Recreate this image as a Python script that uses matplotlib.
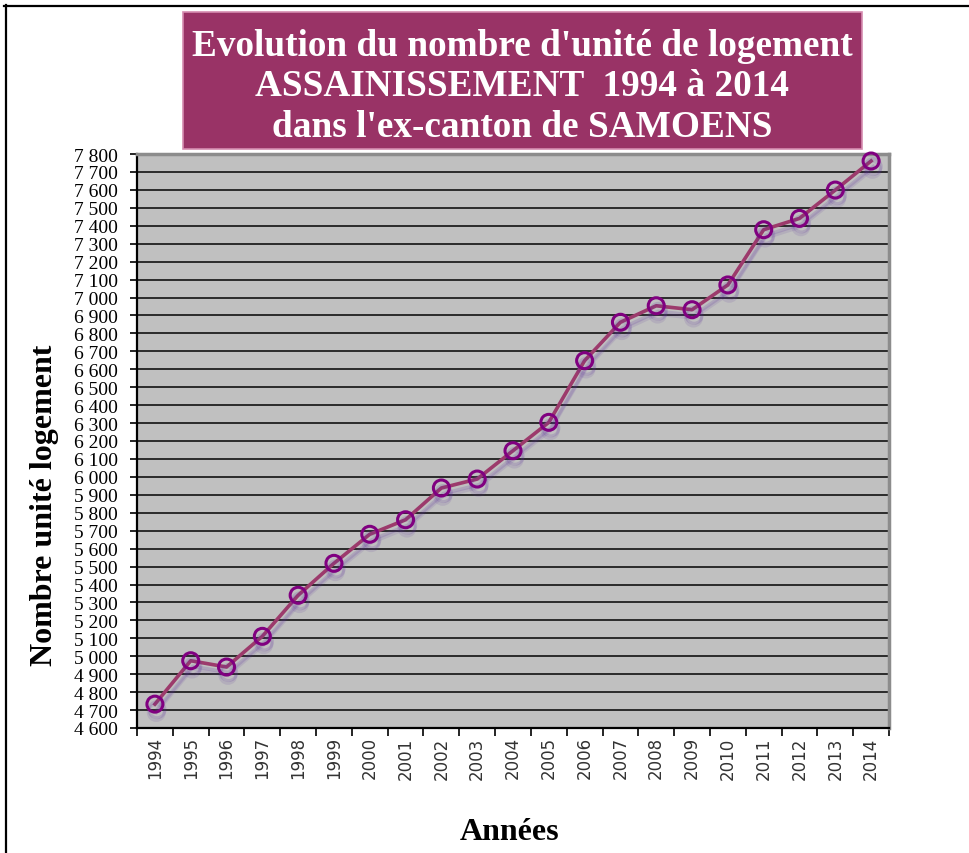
import matplotlib
matplotlib.use("Agg")
import matplotlib.pyplot as plt
from matplotlib.patches import Rectangle
from matplotlib.lines import Line2D
import matplotlib.patheffects as pe
from matplotlib.ticker import FuncFormatter, MultipleLocator, FixedLocator

years = [str(y) for y in range(1994, 2015)]
logements = [4733, 4975, 4940, 5111, 5340, 5518, 5680, 5761, 5938, 5988,
             6146, 6304, 6648, 6862, 6954, 6932, 7070, 7378, 7441, 7599, 7761]
title_lines = ["Evolution du nombre d'unité de logement",
               "ASSAINISSEMENT  1994 à 2014",
               "dans l'ex-canton de SAMOENS"]
ylabel = "Nombre unité logement"
xlabel = "Années"

W, H = 969, 854
fig = plt.figure(figsize=(W / 100, H / 100), dpi=100)
fig.patch.set_facecolor("white")

def fx(px):
    return px / W

def fy(py):
    return 1 - py / H

# outer frame lines (top and left)
fig.add_artist(Line2D([fx(4), fx(969)], [fy(7), fy(7)], color="black", lw=1.6))
fig.add_artist(Line2D([fx(6), fx(6)], [fy(6), fy(854)], color="black", lw=1.6))

# title box
fig.add_artist(Rectangle((fx(183), fy(150)), fx(862) - fx(183), fy(13) - fy(150),
                         facecolor="#993366", edgecolor="#d58cb0", lw=1.2))
fig.text(fx(522), fy(87), "\n".join(title_lines), ha="center", va="center",
         color="white", fontsize=26.8, fontweight="bold",
         family="Liberation Serif", linespacing=1.2)

ax = fig.add_axes([fx(137), fy(729), fx(889) - fx(137), fy(155) - fy(729)])
ax.set_facecolor("#c0c0c0")

x = list(range(len(years)))
ax.set_xlim(-0.5, len(years) - 0.5)
ax.set_ylim(4600, 7800)

ax.yaxis.set_major_locator(MultipleLocator(100))
ax.yaxis.set_major_formatter(FuncFormatter(lambda v, p: f"{int(v):,}".replace(",", " ")))
ax.grid(axis="y", color="#111111", lw=1.2)
ax.set_axisbelow(True)

ax.set_xticks(x)
ax.set_xticklabels(years, rotation=90, fontsize=12, color="#333333",
                   family="DejaVu Sans")
ax.xaxis.set_minor_locator(FixedLocator([i - 0.5 for i in range(len(years) + 1)]))
ax.tick_params(axis="x", which="major", length=0, pad=6)
ax.tick_params(axis="x", which="minor", length=6, width=1.2, direction="out", color="black")
ax.tick_params(axis="y", length=5, width=1.2, direction="out", pad=9, labelsize=14)
for lab in ax.get_yticklabels():
    lab.set_family("Liberation Serif")

for s in ["left", "bottom"]:
    ax.spines[s].set_color("black")
    ax.spines[s].set_linewidth(1.6)
for s in ["top", "right"]:
    ax.spines[s].set_color("#8c8c8c")
    ax.spines[s].set_linewidth(2.5)

shadow = [pe.SimpleLineShadow(offset=(1.5, -4), shadow_color="#5b2d9c", alpha=0.18, rho=1),
          pe.SimpleLineShadow(offset=(1, -6), shadow_color="#5b2d9c", alpha=0.12, rho=1),
          pe.Normal()]
ax.plot(x, logements, color="#9c3a6c", lw=2.6, marker="o", markersize=11.5,
        markerfacecolor="none", markeredgecolor="#800080", markeredgewidth=2.2,
        path_effects=shadow, zorder=3, clip_on=False)

fig.text(fx(45), fy(505), ylabel, rotation=90, ha="center", va="center",
         fontsize=23, fontweight="bold", family="Liberation Serif")
fig.text(fx(510), fy(833), xlabel, ha="center", va="center",
         fontsize=23, fontweight="bold", family="Liberation Serif")

fig.savefig("out.png", dpi=100)
